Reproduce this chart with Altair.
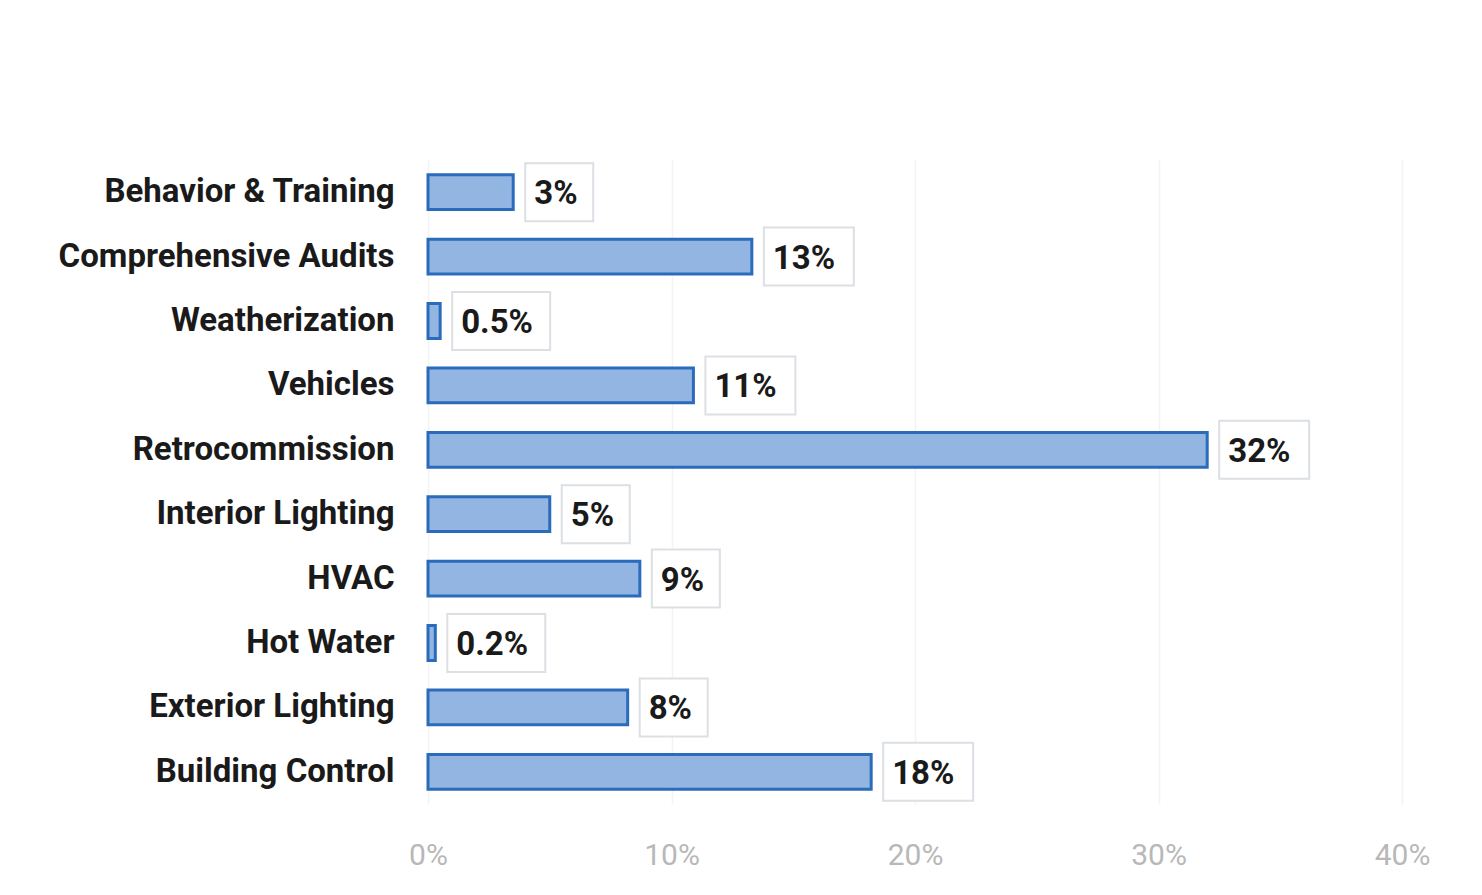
import altair as alt
import pandas as pd

categories = ["Behavior & Training", "Comprehensive Audits", "Weatherization", "Vehicles",
              "Retrocommission", "Interior Lighting", "HVAC", "Hot Water",
              "Exterior Lighting", "Building Control"]
values = [3.5, 13.3, 0.5, 10.9, 32.0, 5.0, 8.7, 0.3, 8.2, 18.2]
labels = ["3%", "13%", "0.5%", "11%", "32%", "5%", "9%", "0.2%", "8%", "18%"]
x_ticks = [0, 10, 20, 30, 40]

df = pd.DataFrame({"category": categories, "value": values, "label": labels})

PX_PER_UNIT = 974 / 40.0
FONT = "Roboto"

y_enc = alt.Y("category:N", sort=categories, title=None,
              scale=alt.Scale(paddingInner=0.46, paddingOuter=0.23),
              axis=alt.Axis(labelFont=FONT, labelFontSize=33, labelFontWeight="bold",
                            labelColor="#1a1a1a", labelPadding=34, ticks=False,
                            domain=False, labelLimit=500))

x_scale = alt.Scale(domain=[0, 40], nice=False)

base = alt.Chart(df)

bars = base.mark_bar(color="#92b5e2", stroke="#2a6cbb", strokeWidth=3).encode(
    x=alt.X("value:Q", scale=x_scale, title=None,
            axis=alt.Axis(values=x_ticks, labelExpr="datum.value + '%'",
                          labelFont=FONT, labelFontSize=30, labelColor="#b8b8b8",
                          labelFlush=False, labelOverlap=False,
                          labelPadding=36, ticks=False, domain=False,
                          grid=True, gridColor="#f1f3f6", gridWidth=1.5)),
    y=y_enc,
)

boxes = base.transform_calculate(
    n="length(replace(datum.label, '.', ''))",
    dot="indexof(datum.label, '.') >= 0 ? 8 : 0",
).transform_calculate(
    bx1=f"datum.value + 12 / {PX_PER_UNIT}",
    bx2=f"datum.value + (12 + 24 + 22 * datum.n + datum.dot) / {PX_PER_UNIT}",
).mark_rect(fill="white", stroke="#dcdfe4", strokeWidth=2, height=58).encode(
    x=alt.X("bx1:Q", scale=x_scale),
    x2="bx2:Q",
    y=alt.Y("category:N", sort=categories),
)

texts = base.mark_text(align="left", baseline="middle", dx=21, dy=2,
                       font=FONT, fontSize=33, fontWeight="bold", color="#1a1a1a").encode(
    x=alt.X("value:Q", scale=x_scale),
    y=alt.Y("category:N", sort=categories),
    text="label:N",
)

chart = alt.layer(bars, boxes, texts).properties(
    width=974, height=644,
    autosize=alt.AutoSizeParams(type="none"),
    padding={"left": 420, "top": 152, "right": 60, "bottom": 80},
).configure(background="white").configure_view(strokeWidth=0)

chart.save("out.html", embed_options={"renderer": "svg", "actions": False})
